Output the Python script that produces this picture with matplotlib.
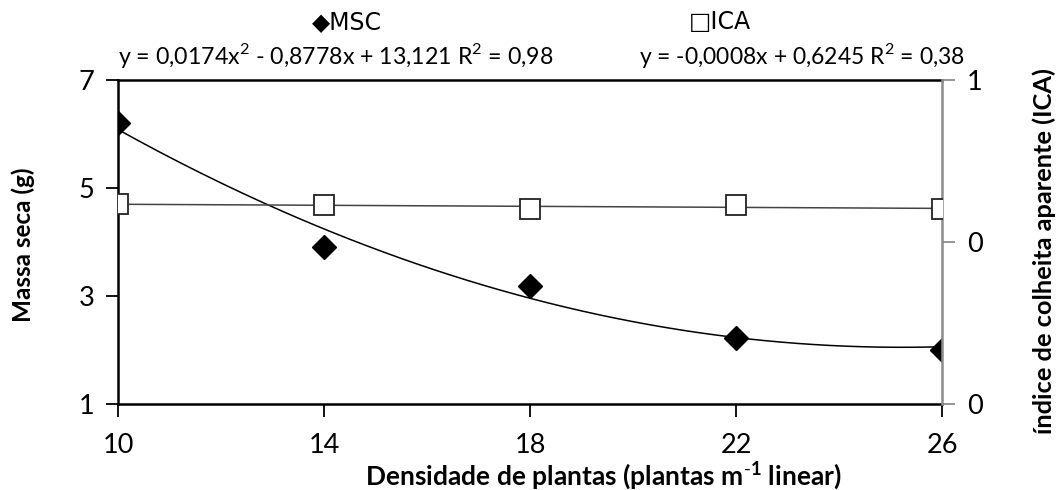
import numpy as np
import matplotlib
matplotlib.use("Agg")
import matplotlib.pyplot as plt

plt.rcParams['font.family'] = ['Lato', 'DejaVu Sans']
plt.rcParams['mathtext.fontset'] = 'custom'
plt.rcParams['mathtext.rm'] = 'Lato'
plt.rcParams['mathtext.bf'] = 'Lato:bold'

# plant density (plants per linear metre)
densidade = [10, 14, 18, 22, 26]
# dry mass (g)
msc = [6.21, 3.91, 3.19, 2.23, 2.00]
# apparent harvest index
ica = [0.617, 0.614, 0.601, 0.614, 0.602]

# trendline coefficients as printed on the chart
msc_coef = [0.0174, -0.8778, 13.121]
ica_coef = [-0.0008, 0.6245]
msc_eq = "y = 0,0174x$^{\\mathrm{2}}$ - 0,8778x + 13,121 R$^{\\mathrm{2}}$ = 0,98"
ica_eq = "y = -0,0008x + 0,6245 R$^{\\mathrm{2}}$ = 0,38"

W, H = 1059, 490
fig = plt.figure(figsize=(W / 100, H / 100), dpi=100)
ax = fig.add_axes([118 / W, 1 - 404 / H, 824 / W, 324 / H])
ax2 = ax.twinx()

xs = np.linspace(min(densidade), max(densidade), 200)
ax.plot(xs, np.polyval(msc_coef, xs), color='black', lw=1.1, zorder=2)
ax.plot(densidade, msc, linestyle='none', marker='D', ms=12.5,
        color='black', zorder=3)

ax2.plot(xs, np.polyval(ica_coef, xs), color='#444444', lw=1.1, zorder=2)
ax2.plot(densidade, ica, linestyle='none', marker='s', ms=15,
         mfc='white', mec='#222222', mew=1.3, zorder=3)

ax.set_xlim(10, 26)
ax.set_ylim(1, 7)
ax.set_xticks(densidade)
ax.set_yticks([1, 3, 5, 7])
ax2.set_ylim(0, 1)
ax2.set_yticks([0, 0.5, 1])
ax2.set_yticklabels(['0', '0', '1'])

for s in ['left', 'bottom', 'top']:
    ax.spines[s].set_linewidth(1.8)
    ax.spines[s].set_color('black')
ax.spines['right'].set_visible(False)
for s in ['left', 'bottom', 'top']:
    ax2.spines[s].set_visible(False)
ax2.spines['right'].set_color('#8c8c8c')
ax2.spines['right'].set_linewidth(1.8)

ax.tick_params(axis='both', direction='out', length=9, width=1.3,
               labelsize=19.5, pad=8, color='black')
ax.tick_params(axis='x', pad=12)
ax2.tick_params(axis='y', direction='out', length=9, width=1.3,
                labelsize=19.5, pad=9, color='#8c8c8c')

# axis titles placed where the reference has them
fig.text(603 / W, 1 - 485 / H,
         "Densidade de plantas (plantas m$^{\\mathbf{\\text{-}1}}$ linear)",
         fontsize=19, fontweight='bold', ha='center', va='baseline')
fig.text(23 / W, 1 - 245 / H, "Massa seca (g)", fontsize=17.5,
         fontweight='bold', rotation=90, ha='center', va='center')
fig.text(1044 / W, 1 - 251 / H, "índice de colheita aparente (ICA)",
         fontsize=18.3, fontweight='bold', rotation=90,
         ha='center', va='center')

fig.text(347 / W, 1 - 22 / H, "\u25C6MSC", fontsize=17, ha='center',
         va='center', family=['DejaVu Sans'])
fig.text(720 / W, 1 - 22 / H, "\u25A1ICA", fontsize=17, ha='center',
         va='center', family=['DejaVu Sans'])
fig.text(336 / W, 1 - 56 / H, msc_eq, fontsize=16.7, ha='center', va='center')
fig.text(802 / W, 1 - 56 / H, ica_eq, fontsize=16.5, ha='center', va='center')

fig.savefig("out.png", dpi=100)
